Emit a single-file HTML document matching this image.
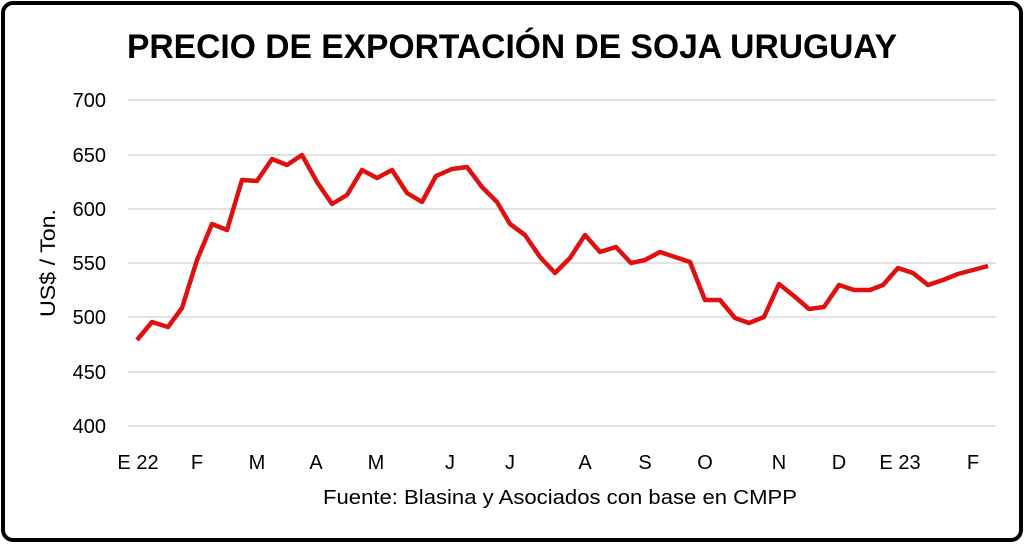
<!DOCTYPE html>
<html><head><style>
body{margin:0;background:#fff;}
</style></head><body>
<svg width="1024" height="543" xmlns="http://www.w3.org/2000/svg" font-family="Liberation Sans, sans-serif">
<rect x="0" y="0" width="1024" height="543" fill="#fff"/>
<rect x="3" y="3" width="1018" height="537" rx="10" fill="none" stroke="#000" stroke-width="4"/>
<text x="512" y="58" text-anchor="middle" font-size="34" font-weight="bold" fill="#000" textLength="770" lengthAdjust="spacingAndGlyphs">PRECIO DE EXPORTACIÓN DE SOJA URUGUAY</text>
<g stroke="#d9d9d9" stroke-width="1.5">
<line x1="128" x2="996" y1="100" y2="100"/>
<line x1="128" x2="996" y1="155" y2="155"/>
<line x1="128" x2="996" y1="209" y2="209"/>
<line x1="128" x2="996" y1="263" y2="263"/>
<line x1="128" x2="996" y1="317" y2="317"/>
<line x1="128" x2="996" y1="372" y2="372"/>
<line x1="128" x2="996" y1="426" y2="426"/>
</g>
<g font-size="20" fill="#000" text-anchor="end">
<text x="106" y="107">700</text><text x="106" y="162">650</text><text x="106" y="216">600</text>
<text x="106" y="270">550</text><text x="106" y="324">500</text><text x="106" y="379">450</text><text x="106" y="433">400</text>
</g>
<text transform="translate(55,263) rotate(-90)" text-anchor="middle" font-size="21" fill="#000" textLength="108" lengthAdjust="spacingAndGlyphs">US$ / Ton.</text>
<g font-size="20" fill="#000" text-anchor="middle">
<text x="138" y="469">E 22</text><text x="197" y="469">F</text><text x="257" y="469">M</text><text x="316" y="469">A</text>
<text x="376" y="469">M</text><text x="450" y="469">J</text><text x="510" y="469">J</text><text x="585" y="469">A</text>
<text x="645" y="469">S</text><text x="705" y="469">O</text><text x="779" y="469">N</text><text x="839" y="469">D</text>
<text x="900" y="469">E 23</text><text x="973" y="469">F</text>
</g>
<text x="560" y="504" text-anchor="middle" font-size="20" fill="#000" textLength="474" lengthAdjust="spacingAndGlyphs">Fuente: Blasina y Asociados con base en CMPP</text>
<polyline fill="none" stroke="#e01010" stroke-width="4.5" stroke-linejoin="round" points="137,340 152,322 168,327 182,308 197,260 212,224 227,230 242,180 257,181 272,159 287,165 302,155 317,182 332,204 347,195 362,170 377,178 392,170 407,193 422,202 436,176 452,169 467,167 482,187 497,202 510,224 525,235 540,257 555,273 570,258 585,235 600,252 616,247 631,263 645,260 660,252 675,257 690,262 705,300 720,300 735,318 749,323 764,317 779,284 794,296 809,309 824,307 839,285 854,290 870,290 883,285 898,268 913,273 928,285 943,280 958,274 973,270 988,266"/>
</svg>
</body></html>
